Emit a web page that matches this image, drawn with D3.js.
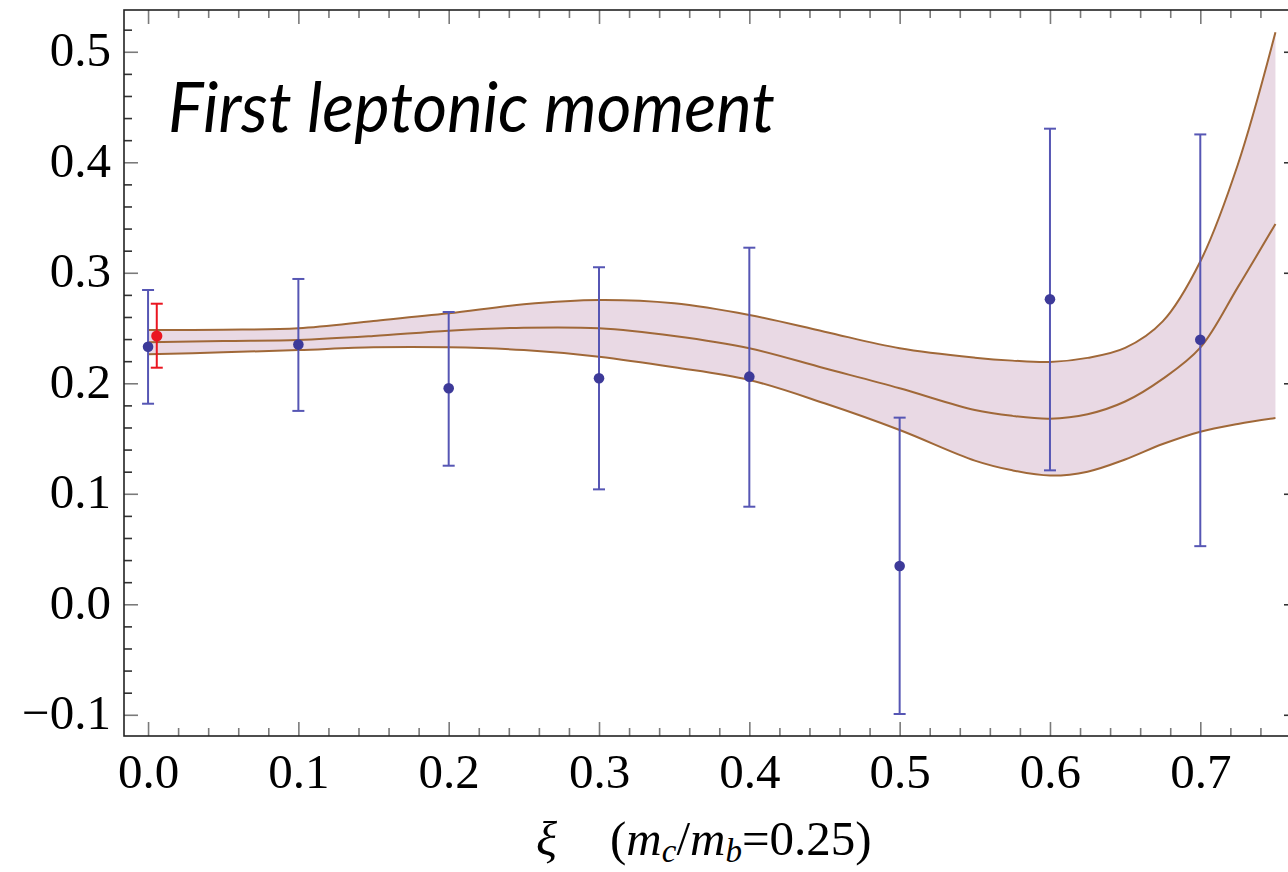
<!DOCTYPE html>
<html>
<head>
<meta charset="utf-8">
<script src="https://cdn.jsdelivr.net/npm/d3@7"></script>
<style>
  html, body { margin: 0; padding: 0; background: #fff; }
  svg { display: block; }
</style>
</head>
<body>
<svg id="chart" width="1288" height="872"></svg>
<script>
// ---- data ----
const xiPoints = [0.0, 0.1, 0.2, 0.3, 0.4, 0.5, 0.6, 0.7];
const values   = [0.233, 0.235, 0.1955, 0.2045, 0.206, 0.0347, 0.2761, 0.2394];
const errHigh  = [0.2844, 0.2944, 0.2645, 0.305, 0.3227, 0.1689, 0.4304, 0.4252];
const errLow   = [0.1815, 0.175, 0.1254, 0.104, 0.0883, -0.0993, 0.1212, 0.0526];

const redXi = [0.0058];
const redValue = [0.2428];
const redHigh = [0.272];
const redLow = [0.2141];

const bandXi    = [0, 0.05, 0.1, 0.15, 0.2, 0.25, 0.3, 0.35, 0.4, 0.45, 0.5, 0.55, 0.575, 0.6, 0.625, 0.65, 0.675, 0.7, 0.725, 0.75];
const bandLower = [0.2262, 0.2280, 0.2301, 0.2326, 0.2326, 0.2301, 0.2241, 0.2145, 0.2030, 0.1819, 0.1577, 0.1300, 0.1212, 0.1165, 0.1200, 0.1310, 0.1450, 0.1562, 0.1632, 0.1686];
const bandMid   = [0.2371, 0.2383, 0.2392, 0.2428, 0.2476, 0.2503, 0.2498, 0.2428, 0.2317, 0.2136, 0.1955, 0.1758, 0.1705, 0.1680, 0.1720, 0.1835, 0.2040, 0.2322, 0.2870, 0.3442];
const bandUpper = [0.2482, 0.2485, 0.2498, 0.2564, 0.2633, 0.2715, 0.2754, 0.2724, 0.2618, 0.2467, 0.2317, 0.2232, 0.2205, 0.2193, 0.2230, 0.2320, 0.2560, 0.3102, 0.3980, 0.5176];

const xMajorTicks = [0, 0.1, 0.2, 0.3, 0.4, 0.5, 0.6, 0.7];
const yMajorTicks = [-0.1, 0.0, 0.1, 0.2, 0.3, 0.4, 0.5];
const xMinorTicks = d3.range(0, 39).map(i => +(i * 0.02).toFixed(2)).filter(v => Math.abs(v * 10 - Math.round(v * 10)) > 1e-6);
const yMinorTicks = d3.range(-5, 27).map(i => +(i * 0.02).toFixed(2)).filter(v => Math.abs(v * 10 - Math.round(v * 10)) > 1e-6);

const titleText = "First leptonic moment";

// ---- layout ----
const pL = 124, pR = 1298, pT = 10, pB = 736;
const svg = d3.select("#chart");
const x = d3.scaleLinear().domain([-0.016, 0.765]).range([pL, pR]);
const y = d3.scaleLinear().domain([-0.1192, 0.5378]).range([pB, pT]);

const bandColor = "#e9d9e4";
const lineColor = "#a06838";
const barColor = "#5656b4";
const ptColor = "#3d3a99";
const redColor = "#ea1520";

svg.append("defs").append("clipPath").attr("id", "clip")
  .append("rect").attr("x", pL).attr("y", pT).attr("width", pR - pL).attr("height", pB - pT);

const plot = svg.append("g").attr("clip-path", "url(#clip)");

const band = bandXi.map((v, i) => ({ x: v, lo: bandLower[i], mid: bandMid[i], hi: bandUpper[i] }));
const curve = d3.curveCatmullRom.alpha(0.5);

plot.append("path").datum(band)
  .attr("fill", bandColor)
  .attr("d", d3.area().curve(curve).x(d => x(d.x)).y0(d => y(d.lo)).y1(d => y(d.hi)));

["lo", "mid", "hi"].forEach(k => {
  plot.append("path").datum(band)
    .attr("fill", "none").attr("stroke", lineColor).attr("stroke-width", 2)
    .attr("d", d3.line().curve(curve).x(d => x(d.x)).y(d => y(d[k])));
});

// error bars
function drawBars(xs, vs, hs, ls, col, barCol, r) {
  const g = plot.append("g");
  xs.forEach((xv, i) => {
    const cx = x(xv);
    g.append("line").attr("x1", cx).attr("x2", cx).attr("y1", y(hs[i])).attr("y2", y(ls[i]))
      .attr("stroke", barCol).attr("stroke-width", 2);
    [hs[i], ls[i]].forEach(e => {
      g.append("line").attr("x1", cx - 6).attr("x2", cx + 6).attr("y1", y(e)).attr("y2", y(e))
        .attr("stroke", barCol).attr("stroke-width", 2);
    });
    g.append("circle").attr("cx", cx).attr("cy", y(vs[i])).attr("r", r).attr("fill", col);
  });
}
drawBars(xiPoints, values, errHigh, errLow, ptColor, barColor, 5.3);
drawBars(redXi, redValue, redHigh, redLow, redColor, redColor, 5.6);

// ---- frame & ticks ----
const majorLen = 14, minorLen = 8;
const fmt = v => (v < 0 ? "\u2212" : "") + Math.abs(v).toFixed(1);
const serif = "'Liberation Serif', 'Times New Roman', serif";

function styleAxis(g, col) {
  g.select(".domain").remove();
  g.selectAll(".tick line").attr("stroke", col).attr("stroke-width", 1.6);
}

// bottom
const gxB = svg.append("g").attr("transform", `translate(0,${pB})`)
  .call(d3.axisBottom(x).tickValues(xMajorTicks).tickSizeInner(-majorLen).tickSizeOuter(0).tickPadding(17).tickFormat(fmt));
styleAxis(gxB, "#7a7a7a");
gxB.selectAll("text").attr("font-family", serif).attr("font-size", 49).attr("fill", "#000");
const gxBm = svg.append("g").attr("transform", `translate(0,${pB})`)
  .call(d3.axisBottom(x).tickValues(xMinorTicks).tickSizeInner(-minorLen).tickSizeOuter(0).tickFormat(""));
styleAxis(gxBm, "#7a7a7a");

// top
const gxT = svg.append("g").attr("transform", `translate(0,${pT})`)
  .call(d3.axisTop(x).tickValues(xMajorTicks).tickSizeInner(-majorLen).tickSizeOuter(0).tickFormat(""));
styleAxis(gxT, "#7a7a7a");
const gxTm = svg.append("g").attr("transform", `translate(0,${pT})`)
  .call(d3.axisTop(x).tickValues(xMinorTicks).tickSizeInner(-minorLen).tickSizeOuter(0).tickFormat(""));
styleAxis(gxTm, "#7a7a7a");

// left
const gyL = svg.append("g").attr("transform", `translate(${pL},0)`)
  .call(d3.axisLeft(y).tickValues(yMajorTicks).tickSizeInner(-majorLen).tickSizeOuter(0).tickPadding(13).tickFormat(fmt));
styleAxis(gyL, "#7a7a7a");
gyL.selectAll("text").attr("font-family", serif).attr("font-size", 49).attr("fill", "#000").attr("dy", "0.28em");
const gyLm = svg.append("g").attr("transform", `translate(${pL},0)`)
  .call(d3.axisLeft(y).tickValues(yMinorTicks).tickSizeInner(-minorLen).tickSizeOuter(0).tickFormat(""));
styleAxis(gyLm, "#333");

// right
const gyR = svg.append("g").attr("transform", `translate(${pR},0)`)
  .call(d3.axisRight(y).tickValues(yMajorTicks).tickSizeInner(-majorLen).tickSizeOuter(0).tickFormat(""));
styleAxis(gyR, "#333");
const gyRm = svg.append("g").attr("transform", `translate(${pR},0)`)
  .call(d3.axisRight(y).tickValues(yMinorTicks).tickSizeInner(-minorLen).tickSizeOuter(0).tickFormat(""));
styleAxis(gyRm, "#333");

// frame
svg.append("rect").attr("x", pL).attr("y", pT).attr("width", pR - pL).attr("height", pB - pT)
  .attr("fill", "none").attr("stroke", "#222").attr("stroke-width", 1.6);

// ---- title ----
svg.append("text")
  .attr("x", 168).attr("y", 132)
  .attr("font-family", "Lato, 'Open Sans', sans-serif")
  .attr("font-style", "italic")
  .attr("font-size", 70)
  .attr("textLength", 607).attr("lengthAdjust", "spacingAndGlyphs")
  .attr("fill", "#000")
  .text(titleText);

// ---- x axis label ----
svg.append("text").attr("x", 536).attr("y", 855)
  .attr("font-family", serif).attr("font-size", 49).attr("font-style", "italic").text("\u03BE");
const lab = svg.append("text").attr("x", 610).attr("y", 855)
  .attr("font-family", serif).attr("font-size", 49);
lab.append("tspan").text("(");
lab.append("tspan").attr("font-style", "italic").text("m");
lab.append("tspan").attr("font-style", "italic").attr("font-size", 33).attr("dy", 7).text("c");
lab.append("tspan").attr("dy", -7).text("/");
lab.append("tspan").attr("font-style", "italic").text("m");
lab.append("tspan").attr("font-style", "italic").attr("font-size", 33).attr("dy", 7).text("b");
lab.append("tspan").attr("dy", -7).text("=0.25)");
</script>
</body>
</html>
